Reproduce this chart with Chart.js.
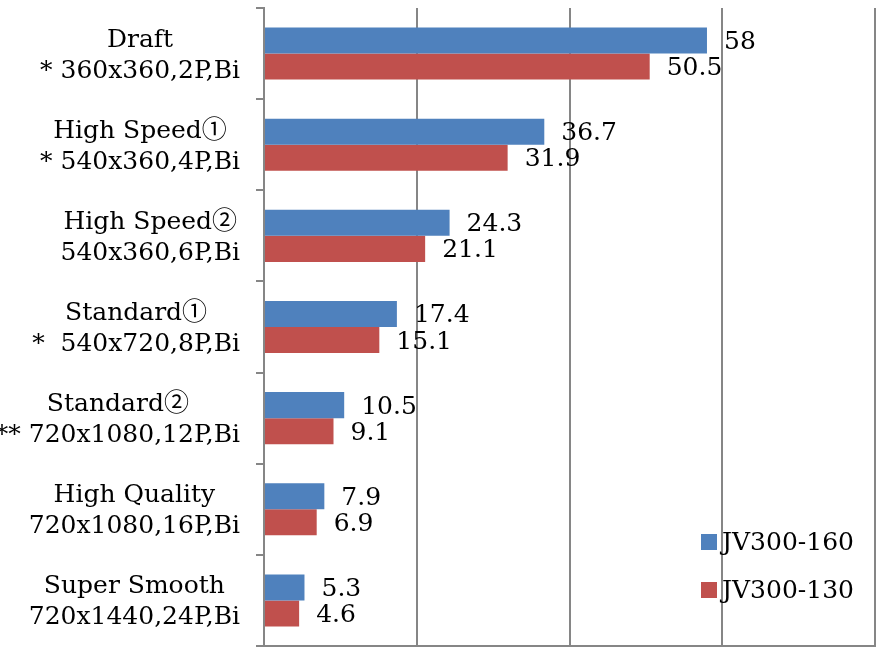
<!DOCTYPE html>
<html>
<head>
<meta charset="utf-8">
<script src="https://cdn.jsdelivr.net/npm/chart.js@4"></script>
<style>
  html, body { margin: 0; padding: 0; background: #fff; }
  #wrap { width: 893px; height: 648px; }
</style>
</head>
<body>
<div id="wrap"><canvas id="c" width="893" height="648"></canvas></div>
<script>
const categories = [
  ["Draft", "* 360x360,2P,Bi"],
  ["High Speed\u2460", "* 540x360,4P,Bi"],
  ["High Speed\u2461", "540x360,6P,Bi"],
  ["Standard\u2460", "*  540x720,8P,Bi"],
  ["Standard\u2461", "** 720x1080,12P,Bi"],
  ["High Quality", "720x1080,16P,Bi"],
  ["Super Smooth", "720x1440,24P,Bi"]
];
const seriesNames = ["JV300-160", "JV300-130"];
const jv160 = [58, 36.7, 24.3, 17.4, 10.5, 7.9, 5.3];
const jv130 = [50.5, 31.9, 21.1, 15.1, 9.1, 6.9, 4.6];
const xTicks = [0, 20, 40, 60, 80];

const FONT = "'DejaVu Serif', 'Noto Sans CJK JP', serif";
const GRID = "#868686";

const labelPlugin = {
  id: 'customText',
  afterDraw(chart) {
    const ctx = chart.ctx;
    const ys = chart.scales.y;
    const area = chart.chartArea;
    ctx.save();
    ctx.fillStyle = '#000';
    ctx.font = "25px " + FONT;
    ctx.textBaseline = 'middle';
    ctx.textAlign = 'center';
    categories.forEach((lines, i) => {
      const yc = ys.getPixelForTick(i);
      const w = Math.max(...lines.map(l => ctx.measureText(l).width));
      const xc = area.left - 24 - w / 2;
      const lh = 31;
      lines.forEach((l, k) => {
        ctx.fillText(l, xc, yc + (k - (lines.length - 1) / 2) * lh + 2);
      });
    });
    ctx.textAlign = 'left';
    chart.data.datasets.forEach((ds, di) => {
      const meta = chart.getDatasetMeta(di);
      meta.data.forEach((bar, i) => {
        ctx.fillText(String(ds.data[i]), bar.x + 17, bar.y + 2);
      });
    });
    const lx = area.right - 174;
    const ly0 = area.bottom - 104;
    chart.data.datasets.forEach((ds, di) => {
      const ly = ly0 + di * 48;
      ctx.fillStyle = ds.backgroundColor;
      ctx.fillRect(lx, ly - 8, 16, 16);
      ctx.fillStyle = '#000';
      ctx.fillText(ds.label, lx + 21, ly + 1);
    });
    ctx.restore();
  }
};

new Chart(document.getElementById('c'), {
  type: 'bar',
  data: {
    labels: categories,
    datasets: [
      { label: seriesNames[0], data: jv160, backgroundColor: '#4F81BD', borderWidth: 0,
        categoryPercentage: 0.571, barPercentage: 1.0 },
      { label: seriesNames[1], data: jv130, backgroundColor: '#C0504D', borderWidth: 0,
        categoryPercentage: 0.571, barPercentage: 1.0 }
    ]
  },
  options: {
    indexAxis: 'y',
    responsive: false,
    animation: false,
    layout: { padding: { top: 8, right: 18, bottom: 0, left: 0 } },
    plugins: { legend: { display: false }, tooltip: { enabled: false } },
    scales: {
      x: {
        min: xTicks[0], max: xTicks[xTicks.length - 1],
        afterBuildTicks(scale) { scale.ticks = xTicks.map(v => ({ value: v })); },
        ticks: { display: false },
        grid: { color: GRID, lineWidth: 2, drawTicks: false },
        border: { display: true, color: GRID, width: 2 },
        afterFit(scale) { scale.height = 2; }
      },
      y: {
        ticks: { display: false },
        grid: { offset: true, drawOnChartArea: false, color: GRID, lineWidth: 2, tickLength: 8 },
        border: { display: true, color: GRID, width: 2 },
        afterFit(scale) { scale.width = 264; }
      }
    }
  },
  plugins: [labelPlugin]
});
</script>
</body>
</html>
